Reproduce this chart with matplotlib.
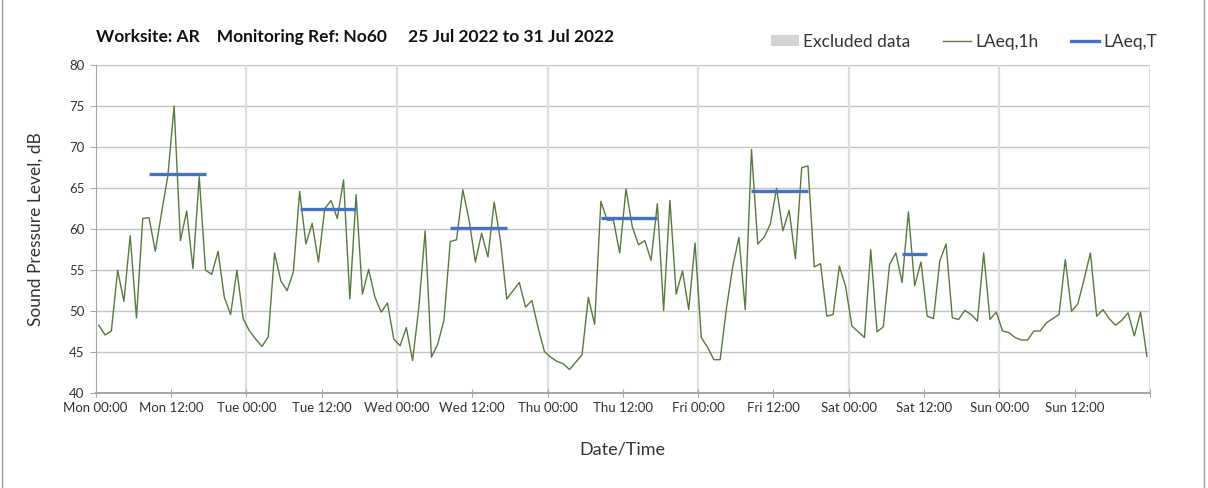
import numpy as np
import pandas as pd
import matplotlib
matplotlib.use('Agg')
import matplotlib.pyplot as plt
from matplotlib.patches import Patch, Rectangle
from matplotlib.lines import Line2D

plt.rcParams['font.family'] = ['Lato', 'DejaVu Sans']

# hourly LAeq,1h values, Mon 25 Jul 2022 00:00 .. Sun 31 Jul 2022 23:00
laeq_1h = [
    48.3, 47.1, 47.6, 55.0, 51.2, 59.2, 49.2, 61.3, 61.4, 57.3, 62.0, 66.5,
    75.0, 58.6, 62.2, 55.2, 66.4, 55.0, 54.5, 57.3, 51.7, 49.6, 55.0, 49.1,
    47.6, 46.6, 45.7, 46.9, 57.1, 53.7, 52.5, 54.8, 64.6, 58.2, 60.7, 56.0,
    62.5, 63.5, 61.3, 66.0, 51.5, 64.2, 52.1, 55.1, 51.7, 49.9, 51.0, 46.6,
    45.8, 48.0, 44.0, 50.5, 59.8, 44.4, 46.0, 48.9, 58.5, 58.7, 64.8, 61.1,
    56.0, 59.5, 56.6, 63.3, 58.6, 51.5, 52.5, 53.5, 50.5, 51.3, 48.0, 45.1,
    44.4, 43.9, 43.6, 42.9, 43.8, 44.7, 51.7, 48.4, 63.4, 61.1, 61.1, 57.1,
    64.9, 60.3, 58.1, 58.6, 56.2, 63.1, 50.1, 63.5, 52.1, 54.9, 50.2, 58.3,
    46.8, 45.6, 44.1, 44.1, 50.3, 55.4, 59.0, 50.2, 69.7, 58.2, 59.0, 60.6,
    65.0, 59.8, 62.3, 56.4, 67.5, 67.7, 55.4, 55.8, 49.4, 49.6, 55.5, 53.0,
    48.2, 47.5, 46.8, 57.5, 47.5, 48.1, 55.7, 57.1, 53.5, 62.1, 53.1, 56.0,
    49.4, 49.1, 56.1, 58.2, 49.2, 49.0, 50.1, 49.6, 48.8, 57.1, 49.0, 49.9,
    47.6, 47.4, 46.8, 46.5, 46.5, 47.6, 47.6, 48.6, 49.1, 49.6, 56.3, 50.0,
    50.9, 53.9, 57.1, 49.4, 50.2, 49.1, 48.3, 48.9, 49.8, 47.0, 49.9, 44.5,
]

# LAeq,T per day period (day index, start hour, end hour, value)
period_day = [0, 1, 2, 3, 4, 5]
period_start = [8, 8, 8, 8, 8, 8]
period_end = [18, 18, 18, 18, 18, 13]
laeq_t = [66.7, 62.4, 60.2, 61.3, 64.6, 57.0]

day_names = ['Mon', 'Tue', 'Wed', 'Thu', 'Fri', 'Sat', 'Sun']

start = pd.Timestamp('2022-07-25 00:00')
times = pd.date_range(start + pd.Timedelta(minutes=30), periods=len(laeq_1h), freq='h')
s = pd.Series(laeq_1h, index=times)

fig = plt.figure(figsize=(12.08, 4.88), dpi=100)
ax = fig.add_axes([0.0792, 0.194, 0.8728, 0.6728])

green = '#587a3c'
blue = '#4472c4'

ax.plot(s.index, s.values, color=green, lw=1.0, zorder=3)

for d, a, b, v in zip(period_day, period_start, period_end, laeq_t):
    t0 = start + pd.Timedelta(days=d, hours=a)
    t1 = start + pd.Timedelta(days=d, hours=b)
    seg = s[(s.index >= t0) & (s.index < t1)]
    ax.plot([seg.index[0], seg.index[-1]], [v, v], color=blue, lw=2.4,
            solid_capstyle='butt', zorder=4)

ax.set_xlim(start, start + pd.Timedelta(days=7))
ax.set_ylim(40, 80)
ax.set_yticks(np.arange(40, 81, 5))

labels = [f'{d} {h}' for d in day_names for h in ['00:00', '12:00']] + ['']
ax.set_xticks(pd.date_range(start, periods=15, freq='12h'))
ax.set_xticklabels(labels)

# grid: horizontal every 5 dB, vertical at midnight
for y in np.arange(45, 81, 5):
    ax.axhline(y, color='#c4c4c4', lw=1.0, zorder=1)
for d in range(1, 8):
    ax.axvline(start + pd.Timedelta(days=d), color='#dedede', lw=1.6, zorder=1)

for sp in ['top', 'right']:
    ax.spines[sp].set_visible(False)
ax.spines['left'].set_color('#a6a6a6')
ax.spines['bottom'].set_color('#a6a6a6')
ax.spines['bottom'].set_linewidth(1.4)
ax.tick_params(axis='both', colors='#a6a6a6', labelcolor='#333333',
               labelsize=9.5, length=4)
ax.tick_params(axis='x', direction='inout', length=6, pad=3)
ax.tick_params(axis='y', pad=4)

ax.set_ylabel('Sound Pressure Level, dB', fontsize=12.5, color='#333333', labelpad=18)
ax.set_xlabel('Date/Time', fontsize=13, color='#333333', labelpad=20)

fig.text(0.0795, 0.924, 'Worksite: AR    Monitoring Ref: No60     25 Jul 2022 to 31 Jul 2022',
         fontsize=12.5, fontweight='bold', color='#111111', va='center')

handles = [Patch(facecolor='#d4d4d4', edgecolor='none'),
           Line2D([], [], color=green, lw=1.0),
           Line2D([], [], color=blue, lw=2.4)]
fig.legend(handles, ['Excluded data', 'LAeq,1h', 'LAeq,T'], ncol=3, frameon=False,
           loc='center right', bbox_to_anchor=(0.971, 0.914), fontsize=12.5,
           handlelength=1.6, handleheight=0.6, columnspacing=1.9, handletextpad=0.25,
           labelcolor='#333333')

fig.patches.append(Rectangle((0.002, -0.01), 0.995, 1.02, transform=fig.transFigure,
                             fill=False, edgecolor='#a0a0a0', lw=1.0))

fig.savefig('out.png', dpi=100)
